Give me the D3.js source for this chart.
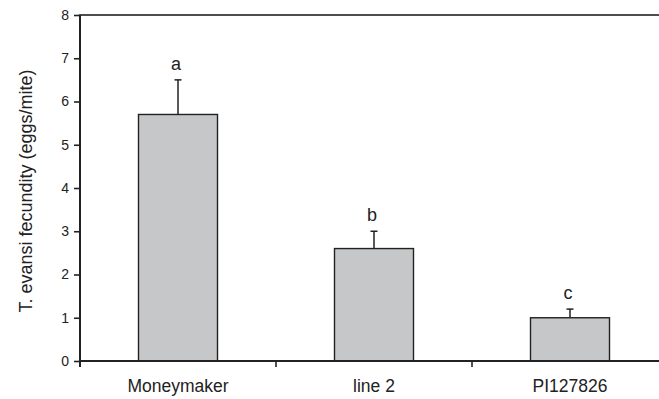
<!DOCTYPE html>
<html>
<head>
<meta charset="utf-8">
<script src="https://cdn.jsdelivr.net/npm/d3@7"></script>
<style>
  html, body { margin: 0; padding: 0; background: #fff; }
  svg { display: block; font-family: "Liberation Sans", Arial, Helvetica, sans-serif; }
</style>
</head>
<body>
<svg id="chart" width="659" height="399"></svg>
<script>
const categories = ["Moneymaker", "line 2", "PI127826"];
const means = [5.7, 2.6, 1.0];
const errors = [0.8, 0.4, 0.2];
const letters = ["a", "b", "c"];
const yTicks = [0, 1, 2, 3, 4, 5, 6, 7, 8];
const yLabel = "T. evansi fecundity (eggs/mite)";

const svg = d3.select("#chart");
const margin = { left: 80, top: 15, right: 668, bottom: 361 };
const ink = "#222";

const x = d3.scaleBand().domain(categories).range([margin.left, margin.right]).paddingInner(0).paddingOuter(0);
const y = d3.scaleLinear().domain([0, 8]).range([margin.bottom, margin.top]);
const barW = 79;

// frame (top line; right edge off-canvas)
svg.append("rect")
  .attr("x", margin.left).attr("y", margin.top)
  .attr("width", margin.right - margin.left).attr("height", margin.bottom - margin.top)
  .attr("fill", "none").attr("stroke", ink).attr("stroke-width", 1.6);

// bars
svg.append("g").selectAll("rect").data(categories).join("rect")
  .attr("x", (d) => x(d) + x.bandwidth() / 2 - barW / 2)
  .attr("y", (d, i) => y(means[i]))
  .attr("width", barW)
  .attr("height", (d, i) => y(0) - y(means[i]))
  .attr("fill", "#c6c7c9")
  .attr("stroke", ink).attr("stroke-width", 1.4);

// error bars (upward only)
const eg = svg.append("g").attr("stroke", ink).attr("stroke-width", 1.5);
categories.forEach((c, i) => {
  const cx = x(c) + x.bandwidth() / 2;
  eg.append("line").attr("x1", cx).attr("x2", cx).attr("y1", y(means[i])).attr("y2", y(means[i] + errors[i]));
  eg.append("line").attr("x1", cx - 3.5).attr("x2", cx + 3.5).attr("y1", y(means[i] + errors[i])).attr("y2", y(means[i] + errors[i]));
});

// significance letters
svg.append("g").selectAll("text").data(categories).join("text")
  .attr("x", (d) => x(d) + x.bandwidth() / 2 - 2)
  .attr("y", (d, i) => y(means[i] + errors[i]) - 10)
  .attr("text-anchor", "middle")
  .attr("font-size", 18).attr("fill", ink)
  .text((d, i) => letters[i]);

// y axis
const yAxis = d3.axisLeft(y).tickValues(yTicks).tickSize(6).tickPadding(5).tickFormat(d3.format("d"));
const yg = svg.append("g").attr("transform", `translate(${margin.left},0)`).call(yAxis);
yg.select(".domain").attr("stroke", ink).attr("stroke-width", 2).attr("d", `M0,${margin.top}V${margin.bottom + 6}`);
yg.selectAll(".tick line").attr("stroke", ink).attr("stroke-width", 1.6);
yg.selectAll(".tick text").attr("font-size", 14).attr("fill", ink).attr("font-family", null);

// x axis
const xg = svg.append("g").attr("transform", `translate(0,${margin.bottom})`);
xg.append("line").attr("x1", margin.left).attr("x2", margin.right).attr("y1", 0).attr("y2", 0)
  .attr("stroke", ink).attr("stroke-width", 2.2);
xg.selectAll("line.tk").data(categories).join("line").attr("class", "tk")
  .attr("x1", (d) => x(d)).attr("x2", (d) => x(d)).attr("y1", 0).attr("y2", 6)
  .attr("stroke", ink).attr("stroke-width", 1.6);
xg.selectAll("text").data(categories).join("text")
  .attr("x", (d) => x(d) + x.bandwidth() / 2)
  .attr("y", 31)
  .attr("text-anchor", "middle")
  .attr("font-size", 17.5).attr("fill", ink)
  .text((d) => d);

// y label
svg.append("text")
  .attr("transform", `translate(32,${(margin.top + margin.bottom) / 2 + 3}) rotate(-90)`)
  .attr("text-anchor", "middle")
  .attr("font-size", 18).attr("fill", ink)
  .text(yLabel);
</script>
</body>
</html>
